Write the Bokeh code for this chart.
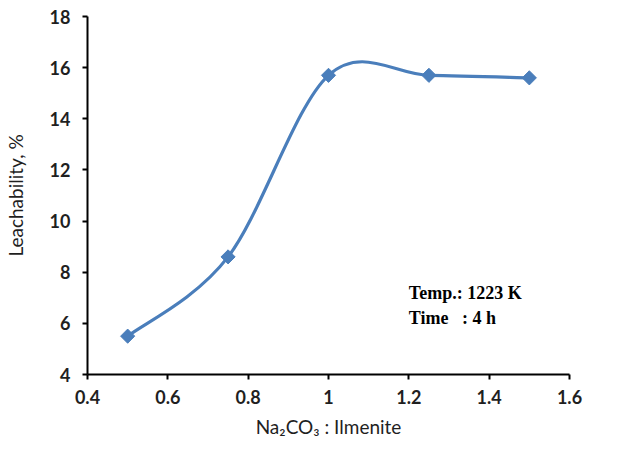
import math
from bokeh.plotting import figure
from bokeh.models import Range1d, FixedTicker, Label
from bokeh.embed import file_html
from bokeh.resources import INLINE

# ---- data ----
ratio = [0.5, 0.75, 1.0, 1.25, 1.5]
leach = [5.5, 8.6, 15.7, 15.7, 15.6]
x_ticks = [0.4, 0.6, 0.8, 1.0, 1.2, 1.4, 1.6]
x_tick_labels = ["0.4", "0.6", "0.8", "1", "1.2", "1.4", "1.6"]
y_ticks = [4, 6, 8, 10, 12, 14, 16, 18]

BLUE = "#4A7EBB"
TXT = "#1f1f1f"

p = figure(width=620, height=442, output_backend="svg", toolbar_location=None,
           x_range=Range1d(0.4, 1.6), y_range=Range1d(4, 18),
           min_border_left=87, min_border_right=51, min_border_top=16, min_border_bottom=68)
p.outline_line_color = None
p.xgrid.grid_line_color = None
p.ygrid.grid_line_color = None
p.background_fill_color = "white"
p.border_fill_color = "white"

# smoothed line (Excel-style Bezier, tension 1/6), computed from the data points
n = len(ratio)
x0s, y0s, x1s, y1s, cx0, cy0, cx1, cy1 = [], [], [], [], [], [], [], []
for i in range(n - 1):
    pa = (ratio[max(i - 1, 0)], leach[max(i - 1, 0)])
    p1 = (ratio[i], leach[i])
    p2 = (ratio[i + 1], leach[i + 1])
    pb = (ratio[min(i + 2, n - 1)], leach[min(i + 2, n - 1)])
    x0s.append(p1[0]); y0s.append(p1[1])
    x1s.append(p2[0]); y1s.append(p2[1])
    cx0.append(p1[0] + (p2[0] - pa[0]) / 6); cy0.append(p1[1] + (p2[1] - pa[1]) / 6)
    cx1.append(p2[0] - (pb[0] - p1[0]) / 6); cy1.append(p2[1] - (pb[1] - p1[1]) / 6)
p.bezier(x0=x0s, y0=y0s, x1=x1s, y1=y1s, cx0=cx0, cy0=cy0, cx1=cx1, cy1=cy1,
         line_color=BLUE, line_width=3.2)

p.scatter(ratio, leach, marker="square", size=10, angle=math.pi / 4,
          fill_color=BLUE, line_color=BLUE)

for ax in (p.xaxis[0], p.yaxis[0]):
    ax.axis_line_width = 2
    ax.axis_line_color = "black"
    ax.major_tick_line_width = 2
    ax.major_tick_line_color = "black"
    ax.major_tick_out = 5
    ax.major_tick_in = 0
    ax.minor_tick_line_color = None
    ax.major_label_text_font = "Lato"
    ax.major_label_text_font_style = "bold"
    ax.major_label_text_font_size = "18px"
    ax.major_label_text_color = TXT
    ax.axis_label_text_font = "Lato"
    ax.axis_label_text_font_style = "normal"
    ax.axis_label_text_font_size = "19px"
    ax.axis_label_text_color = TXT

p.xaxis.ticker = FixedTicker(ticks=x_ticks)
p.xaxis.major_label_overrides = {t: l for t, l in zip(x_ticks, x_tick_labels)}
p.yaxis.ticker = FixedTicker(ticks=y_ticks)
p.xaxis.major_label_standoff = 10
p.yaxis.major_label_standoff = 12
p.xaxis.axis_label = "Na\u2082CO\u2083 : Ilmenite"
p.yaxis.axis_label = "Leachability, %"
p.xaxis.axis_label_standoff = 8
p.yaxis.axis_label_standoff = 20

for txt, yy in (("Temp.: 1223 K", 7.17), ("Time\u00a0\u00a0\u00a0: 4 h", 6.19)):
    p.add_layout(Label(x=1.2, y=yy, text=txt, text_font="Liberation Serif",
                       text_font_style="bold", text_font_size="18px",
                       text_baseline="middle", text_color="black"))

open("out.html", "w").write(file_html(p, INLINE))
